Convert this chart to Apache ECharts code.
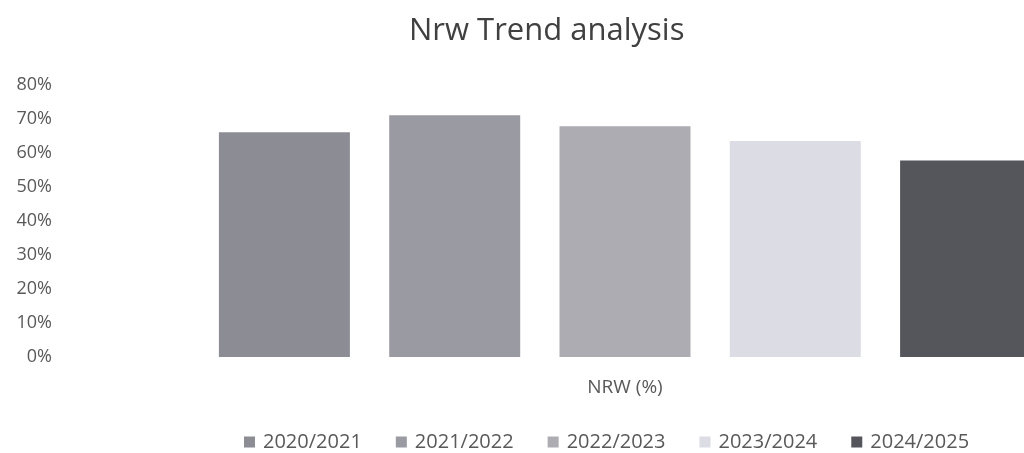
<!DOCTYPE html>
<html>
<head>
<meta charset="utf-8">
<script src="https://cdn.jsdelivr.net/npm/echarts@6/dist/echarts.min.js"></script>
<style>
html,body{margin:0;padding:0;background:#fff;overflow:hidden;}
#chart{width:1024px;height:453px;}
</style>
</head>
<body>
<div id="chart"></div>
<script>
const categories = ['NRW (%)'];
const seriesNames = ['2020/2021', '2021/2022', '2022/2023', '2023/2024', '2024/2025'];
const seriesValues = [66.1, 71.1, 67.9, 63.5, 57.8];
const seriesColors = ['#8c8c94', '#9a9aa2', '#acacb2', '#dcdce4', '#55555c'];
const yTicks = { min: 0, max: 80, interval: 10 };

const FONT = '"Open Sans", sans-serif';
const chart = echarts.init(document.getElementById('chart'), null, { renderer: 'canvas' });

const series = seriesNames.map((name, i) => ({
  name: name,
  type: 'bar',
  data: [seriesValues[i]],
  barWidth: 131,
  barGap: '30%',
  clip: false,
  itemStyle: { color: seriesColors[i] },
  emphasis: { disabled: true }
}));

chart.setOption({
  animation: false,
  backgroundColor: '#ffffff',
  title: {
    text: 'Nrw Trend analysis',
    left: 404,
    top: 11,
    textStyle: { fontFamily: FONT, fontSize: 31, fontWeight: 'normal', color: '#404040' }
  },
  legend: {
    left: 239,
    top: 427,
    itemWidth: 11,
    itemHeight: 11,
    itemGap: 34,
    icon: 'rect',
    textStyle: { fontFamily: FONT, fontSize: 20, color: '#595959', padding: [0, 0, 0, 3] },
    data: seriesNames
  },
  grid: { left: 226, top: 85, right: 0, height: 272, containLabel: false },
  xAxis: {
    type: 'category',
    data: categories,
    axisLine: { show: false },
    axisTick: { show: false },
    axisLabel: { fontFamily: FONT, fontSize: 19, color: '#595959', margin: 21 }
  },
  yAxis: {
    type: 'value',
    min: yTicks.min,
    max: yTicks.max,
    interval: yTicks.interval,
    splitLine: { show: false },
    axisLine: { show: false },
    axisTick: { show: false },
    axisLabel: { fontFamily: FONT, fontSize: 18, color: '#595959', margin: 174, formatter: '{value}%' }
  },
  series: series
});
</script>
</body>
</html>
